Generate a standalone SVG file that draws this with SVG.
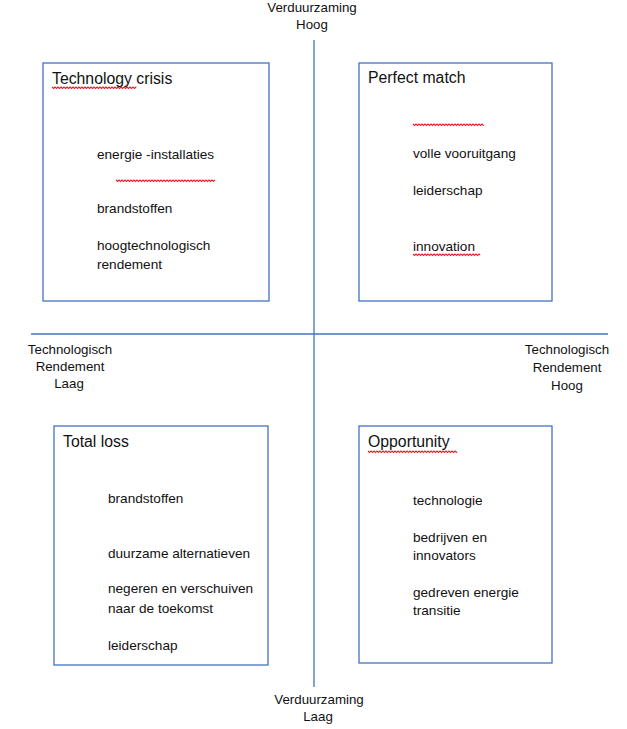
<svg xmlns="http://www.w3.org/2000/svg" xmlns:xlink="http://www.w3.org/1999/xlink" width="627" height="729" viewBox="0 0 627 729">
<style>
.box{fill:#ffffff;stroke:#4472C4;stroke-width:1.3}
.axis{stroke:#4472C4;stroke-width:1.3;fill:none}
.t{font-family:"Liberation Sans",Arial,sans-serif;font-size:13.6px;fill:#111111}
.title{font-family:"Liberation Sans",Arial,sans-serif;font-size:15.8px;fill:#111111}
.ax{font-family:"Liberation Sans",Arial,sans-serif;font-size:13.3px;fill:#111111;text-anchor:middle}
.sq{fill:none;stroke:#e8202a;stroke-width:1.1}
</style>
<defs>
<path id="zig" d="M0 0 l1.5 1.5 1.5 -1.5 1.5 1.5 1.5 -1.5 1.5 1.5 1.5 -1.5 1.5 1.5 1.5 -1.5 1.5 1.5 1.5 -1.5 1.5 1.5 1.5 -1.5 1.5 1.5 1.5 -1.5 1.5 1.5 1.5 -1.5 1.5 1.5 1.5 -1.5 1.5 1.5 1.5 -1.5 1.5 1.5 1.5 -1.5 1.5 1.5 1.5 -1.5 1.5 1.5 1.5 -1.5 1.5 1.5 1.5 -1.5 1.5 1.5 1.5 -1.5 1.5 1.5 1.5 -1.5 1.5 1.5 1.5 -1.5 1.5 1.5 1.5 -1.5 1.5 1.5 1.5 -1.5 1.5 1.5 1.5 -1.5 1.5 1.5 1.5 -1.5 1.5 1.5 1.5 -1.5 1.5 1.5 1.5 -1.5 1.5 1.5 1.5 -1.5 1.5 1.5 1.5 -1.5 1.5 1.5 1.5 -1.5 1.5 1.5 1.5 -1.5 1.5 1.5 1.5 -1.5 1.5 1.5 1.5 -1.5 1.5 1.5 1.5 -1.5 1.5 1.5 1.5 -1.5 1.5 1.5 1.5 -1.5 1.5 1.5 1.5 -1.5"/>
</defs>
<rect width="627" height="729" fill="#ffffff"/>

<g id="connectors">
<line class="axis" x1="314" y1="40" x2="314" y2="687"/>
<line class="axis" x1="31" y1="334" x2="608" y2="334"/>
</g>

<g id="axis-labels">
<text class="ax" x="312" y="12">Verduurzaming</text>
<text class="ax" x="312" y="29">Hoog</text>
<text class="ax" x="319" y="704">Verduurzaming</text>
<text class="ax" x="318" y="721">Laag</text>
<text class="ax" x="70" y="354">Technologisch</text>
<text class="ax" x="70" y="371">Rendement</text>
<text class="ax" x="69" y="388">Laag</text>
<text class="ax" x="567" y="354">Technologisch</text>
<text class="ax" x="567" y="372">Rendement</text>
<text class="ax" x="567" y="390">Hoog</text>
</g>

<g id="technology-crisis">
<rect class="box" x="43" y="63" width="226" height="238"/>
<text class="title" x="52" y="84">Technology crisis</text>
<use href="#zig" class="sq" x="52" y="87" style="stroke-dasharray:119 3000"/>
<text class="t" x="97" y="159">energie -installaties</text>
<use href="#zig" class="sq" x="116" y="180" style="stroke-dasharray:140 3000"/>
<text class="t" x="97" y="213">brandstoffen</text>
<text class="t" x="97" y="250">hoogtechnologisch</text>
<text class="t" x="97" y="269">rendement</text>
</g>

<g id="perfect-match">
<rect class="box" x="359" y="63" width="193" height="238"/>
<text class="title" x="368" y="83">Perfect match</text>
<use href="#zig" class="sq" x="413" y="124" style="stroke-dasharray:100 3000"/>
<text class="t" x="413" y="158">volle vooruitgang</text>
<text class="t" x="413" y="195">leiderschap</text>
<text class="t" x="413" y="251">innovation</text>
<use href="#zig" class="sq" x="413" y="254" style="stroke-dasharray:95 3000"/>
</g>

<g id="total-loss">
<rect class="box" x="54" y="426" width="214" height="239"/>
<text class="title" x="63" y="447">Total loss</text>
<text class="t" x="108" y="503">brandstoffen</text>
<text class="t" x="108" y="558">duurzame alternatieven</text>
<text class="t" x="108" y="593">negeren en verschuiven</text>
<text class="t" x="108" y="613">naar de toekomst</text>
<text class="t" x="108" y="650">leiderschap</text>
</g>

<g id="opportunity">
<rect class="box" x="359" y="426" width="193" height="237"/>
<text class="title" x="368" y="447">Opportunity</text>
<use href="#zig" class="sq" x="368" y="451" style="stroke-dasharray:126 3000"/>
<text class="t" x="413" y="505">technologie</text>
<text class="t" x="413" y="542">bedrijven en</text>
<text class="t" x="413" y="560">innovators</text>
<text class="t" x="413" y="597">gedreven energie</text>
<text class="t" x="413" y="615">transitie</text>
</g>
</svg>
